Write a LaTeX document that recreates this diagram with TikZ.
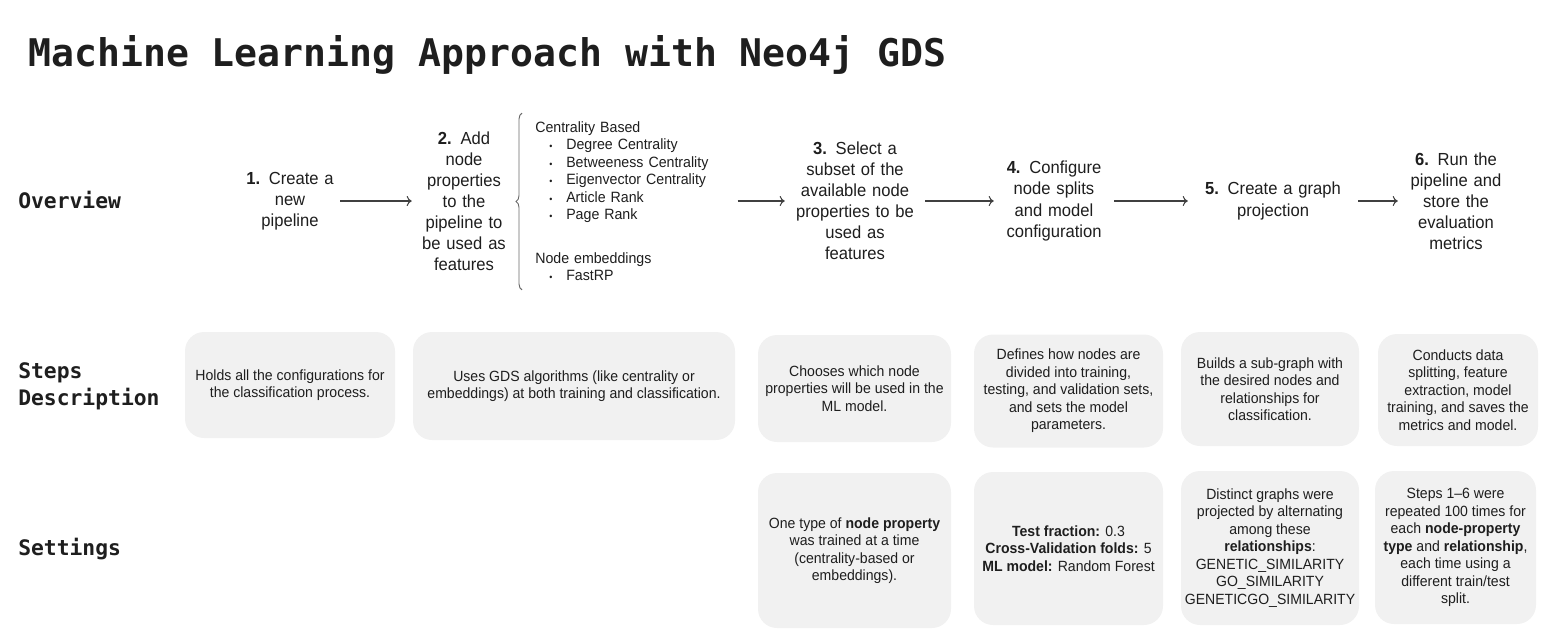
\documentclass[tikz,border=0pt]{standalone}
\usepackage{fontspec}
\setmainfont{Liberation Sans}[FakeStretch=0.95]
\newfontfamily\titlefont{DejaVu Sans Mono}
\usetikzlibrary{arrows.meta,decorations.pathreplacing}
\newdimen\px \px=0.75pt
\definecolor{ink}{HTML}{1E1E1E}
\definecolor{boxgray}{HTML}{F1F1F1}
\definecolor{bracegray}{HTML}{6A6A6A}
\tikzset{
  rowlabel/.style = {anchor=west, inner sep=0pt, align=left,
                     font=\titlefont\bfseries\fontsize{16}{20.5}\selectfont},
  overview/.style = {inner sep=0pt, align=center, text width=#1\px,
                     font=\fontsize{13.1}{15.8}\selectfont},
  featlist/.style = {anchor=west, inner sep=0pt, align=left, text width=202\px,
                     font=\fontsize{11.2}{13.1}\selectfont},
  infobox/.style 2 args = {rectangle, rounded corners=19\px, fill=boxgray,
                     inner sep=0pt, align=center,
                     minimum width=#1\px, minimum height=#2\px,
                     font=\fontsize{11.1}{13.1}\selectfont},
  flow/.style     = {-{To[length=3.8pt,width=7.5pt]}, line width=0.8pt, ink!85}
}
\newcommand{\featitem}[1]{\hspace*{14\px}\makebox[17\px][l]{\scriptsize\textbullet}#1}

\begin{document}
\begin{tikzpicture}[x=1\px, y=-1\px, text=ink]
  \useasboundingbox (0,0) rectangle (1562,639);

  % title and row labels
  \node[anchor=west, inner sep=0pt, font=\titlefont\bfseries\fontsize{28.6}{34}\selectfont]
    (title) at (28,55) {Machine Learning Approach with Neo4j GDS};
  \node[rowlabel] (lbloverview) at (18,200) {Overview};
  \node[rowlabel] (lblsteps)    at (18,386) {Steps\\Description};
  \node[rowlabel] (lblsettings) at (18,549) {Settings};

  % overview row
  \node[overview=100] (ov1) at (290,201) {\textbf{1.} Create a\\new\\pipeline};
  \node[overview=104] (ov2) at (464,201)
    {\textbf{2.} Add\\node\\properties\\to the\\pipeline to\\be used as\\features};
  \node[featlist] (feats) at (535,201)
    {Centrality Based\\
     \featitem{Degree Centrality}\\
     \featitem{Betweeness Centrality}\\
     \featitem{Eigenvector Centrality}\\
     \featitem{Article Rank}\\
     \featitem{Page Rank}\\[26\px]
     Node embeddings\\
     \featitem{FastRP}};
  \node[overview=140] (ov3) at (855,201)
    {\textbf{3.} Select a\\subset of the\\available node\\properties to be\\used as\\features};
  \node[overview=120] (ov4) at (1054,201)
    {\textbf{4.} Configure\\node splits\\and model\\configuration};
  \node[overview=170] (ov5) at (1273,201) {\textbf{5.} Create a graph\\projection};
  \node[overview=116] (ov6) at (1456,201)
    {\textbf{6.} Run the\\pipeline and\\store the\\evaluation\\metrics};

  \draw[decorate, decoration={brace, amplitude=6\px}, line width=0.7pt, bracegray]
    ([xshift=-13\px, yshift=-9\px]feats.south west) -- ([xshift=-13\px, yshift=8\px]feats.north west);

  \foreach \a/\b in {ov1/ov2, feats/ov3, ov3/ov4, ov4/ov5, ov5/ov6}
    \draw[flow] (\a) -- (\b);

  % steps description row
  \node[infobox={210}{106}] (desc1) at (290,385)
    {Holds all the configurations for\\the classification process.};
  \node[infobox={322}{108}] (desc2) at (574,386)
    {Uses GDS algorithms (like centrality or\\embeddings) at both training and classification.};
  \node[infobox={193}{107}] (desc3) at (854.5,388.5)
    {Chooses which node\\properties will be used in the\\ML model.};
  \node[infobox={189}{113}] (desc4) at (1068.5,391)
    {Defines how nodes are\\divided into training,\\testing, and validation sets,\\and sets the model\\parameters.};
  \node[infobox={178}{114}] (desc5) at (1270,389)
    {Builds a sub-graph with\\the desired nodes and\\relationships for\\classification.};
  \node[infobox={160}{112}] (desc6) at (1458,390)
    {Conducts data\\splitting, feature\\extraction, model\\training, and saves the\\metrics and model.};

  % settings row
  \node[infobox={193}{155}] (set3) at (854.5,550.5)
    {One type of \textbf{node property}\\was trained at a time\\(centrality-based or\\embeddings).};
  \node[infobox={189}{153}] (set4) at (1068.5,548.5)
    {\textbf{Test fraction:} 0.3\\\textbf{Cross-Validation folds:} 5\\\textbf{ML model:} Random Forest};
  \node[infobox={178}{154}] (set5) at (1270,548)
    {Distinct graphs were\\projected by alternating\\among these\\\textbf{relationships}:\\GENETIC\_SIMILARITY\\GO\_SIMILARITY\\GENETICGO\_SIMILARITY};
  \node[infobox={161}{153}] (set6) at (1455.5,547.5)
    {Steps 1--6 were\\repeated 100 times for\\each \textbf{node-property}\\\textbf{type} and \textbf{relationship},\\each time using a\\different train/test\\split.};
\end{tikzpicture}
\end{document}
